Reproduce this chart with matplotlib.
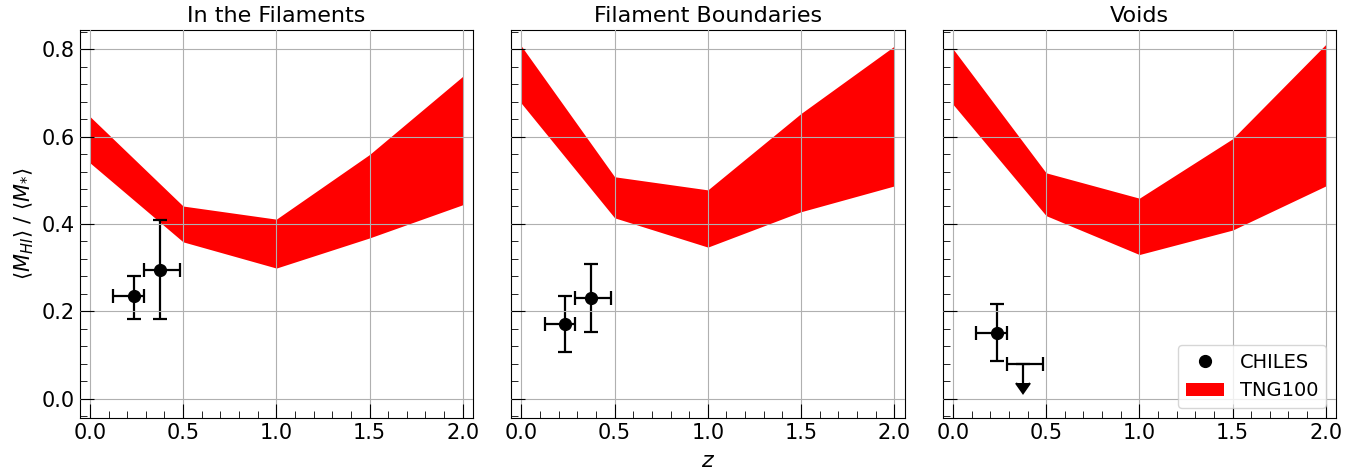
import numpy as np
import matplotlib.pyplot as plt
from matplotlib.ticker import AutoMinorLocator

# panel titles
titles = ['In the Filaments', 'Filament Boundaries', 'Voids']

# TNG100 band (upper / lower edge) at each redshift
z_tng = [0.0, 0.5, 1.0, 1.5, 2.0]
fil_hi = [0.646, 0.441, 0.411, 0.559, 0.738]
fil_lo = [0.540, 0.359, 0.299, 0.368, 0.444]
bnd_hi = [0.807, 0.508, 0.478, 0.653, 0.807]
bnd_lo = [0.676, 0.414, 0.347, 0.428, 0.487]
void_hi = [0.801, 0.517, 0.459, 0.595, 0.811]
void_lo = [0.674, 0.419, 0.330, 0.386, 0.487]

# CHILES stacks
z_chiles = [0.235, 0.375]
z_err_lo = [0.110, 0.087]
z_err_hi = [0.055, 0.106]

fil_y = [0.234, 0.295]
fil_y_lo = [0.051, 0.112]
fil_y_hi = [0.047, 0.115]

bnd_y = [0.170, 0.231]
bnd_y_lo = [0.062, 0.079]
bnd_y_hi = [0.065, 0.077]

# voids: first bin is a detection, second only an upper limit
void_y = [0.151, 0.080]
void_y_lo = [0.065, 0.043]
void_y_hi = [0.065, 0.0]

bands = [(fil_hi, fil_lo), (bnd_hi, bnd_lo), (void_hi, void_lo)]
points = [(fil_y, fil_y_lo, fil_y_hi), (bnd_y, bnd_y_lo, bnd_y_hi),
          (void_y, void_y_lo, void_y_hi)]

fig, axes = plt.subplots(1, 3, sharey=True, figsize=(13.64, 4.76), dpi=100)
fig.subplots_adjust(left=0.0584, right=0.9795, top=0.937, bottom=0.122, wspace=0.097)

for i, ax in enumerate(axes):
    hi, lo = bands[i]
    ax.fill_between(z_tng, lo, hi, color='red', lw=0, label='TNG100')

    y, ylo, yhi = points[i]
    if i < 2:
        ax.errorbar(z_chiles, y, yerr=[ylo, yhi], xerr=[z_err_lo, z_err_hi],
                    fmt='o', color='k', ms=8.5, elinewidth=1.6, capsize=5, capthick=1.6)
    else:
        ax.errorbar(z_chiles[:1], y[:1], yerr=[ylo[:1], yhi[:1]],
                    xerr=[z_err_lo[:1], z_err_hi[:1]],
                    fmt='o', color='k', ms=8.5, elinewidth=1.6, capsize=5, capthick=1.6)
        # upper limit -> downward arrow, no marker
        ax.errorbar(z_chiles[1:], y[1:], yerr=ylo[1:],
                    xerr=[z_err_lo[1:], z_err_hi[1:]], uplims=True,
                    fmt='none', color='k', ecolor='k', elinewidth=1.6,
                    capsize=5, capthick=1.6)
        ax.plot([], [], 'o', color='k', ms=8.5, label='CHILES')
        handles, labels = ax.get_legend_handles_labels()
        ax.legend(handles[::-1], labels[::-1], loc='lower right', fontsize=14)

    ax.set_title(titles[i], fontsize=16)
    ax.set_xlim(-0.055, 2.055)
    ax.set_ylim(-0.044, 0.844)
    ax.set_xticks([0.0, 0.5, 1.0, 1.5, 2.0])
    ax.set_yticks([0.0, 0.2, 0.4, 0.6, 0.8])
    ax.xaxis.set_minor_locator(AutoMinorLocator(5))
    ax.yaxis.set_minor_locator(AutoMinorLocator(5))
    ax.tick_params(which='both', direction='in', top=False, right=False, labelsize=15)
    ax.tick_params(which='major', length=10)
    ax.tick_params(which='minor', length=5)
    ax.grid(True)
    ax.set_axisbelow(False)

axes[0].set_ylabel(r'$\langle M_{HI} \rangle$ / $\langle M_{*} \rangle$', fontsize=15)
axes[1].set_xlabel('$z$', fontsize=16, labelpad=6)

plt.savefig('out.png', dpi=100)
